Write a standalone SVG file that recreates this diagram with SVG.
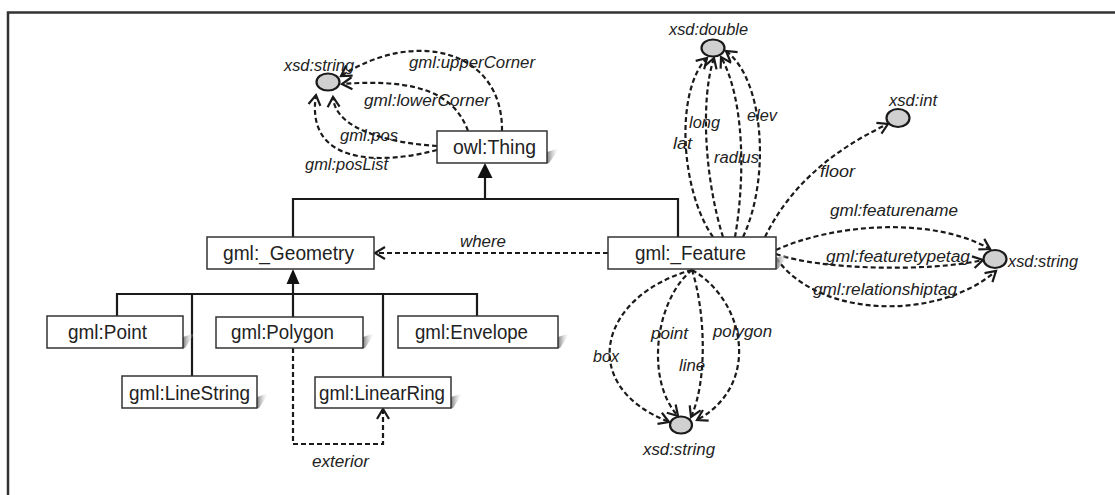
<svg xmlns="http://www.w3.org/2000/svg" width="1115" height="495" viewBox="0 0 1115 495">
<defs>
<linearGradient id="sh" x1="0" y1="0" x2="1" y2="0">
<stop offset="0" stop-color="#7a7a7a"/>
<stop offset="1" stop-color="#ffffff" stop-opacity="0"/>
</linearGradient>
<marker id="open" markerUnits="userSpaceOnUse" markerWidth="16" markerHeight="16" refX="11" refY="7" orient="auto" viewBox="0 0 16 14">
<path d="M1,1 L11,7 L1,13" fill="none" stroke="#1a1a1a" stroke-width="2.2"/>
</marker>
</defs>
<style>
.box{fill:#fff;stroke:#333;stroke-width:1.5}
.shadow{fill:url(#sh)}
.bt{font-family:"Liberation Sans",Arial,sans-serif;font-size:20px;fill:#222}
.lb{font-family:"Liberation Sans",Arial,sans-serif;font-size:16px;font-style:italic;fill:#222}
.dt{fill:#d0d0d0;stroke:#1a1a1a;stroke-width:2.2}
.dash{fill:none;stroke:#1a1a1a;stroke-width:2.2;stroke-dasharray:5 3;marker-end:url(#open)}
.solid{fill:none;stroke:#1a1a1a;stroke-width:2.2}
.tri{fill:#111}
.frame{fill:none;stroke:#333;stroke-width:2.5}
</style>
<rect width="1115" height="495" fill="#fff"/>
<path class="frame" d="M8,495 L8,12.5 L1115,12.5"/>

<g id="connectors">
<path class="solid" d="M485,178 L485,199 M293,237 L293,199 L678,199 L678,237"/>
<polygon class="tri" points="485,163 477.5,178 492.5,178"/>
<path class="solid" d="M293,284 L293,294 M117,316 L117,294 L477,294 L477,316 M192,294 L192,376 M293,294 L293,317 M383,294 L383,377"/>
<polygon class="tri" points="293,269 286.5,284 299.5,284"/>
<path class="dash" d="M502,131 C503,50 415,28 341,76"/>
<path class="dash" d="M468,131 C455,95 420,78 342,84"/>
<path class="dash" d="M437,146 C390,143 335,130 333,97"/>
<path class="dash" d="M437,150 C380,165 305,165 316,95"/>
<path class="dash" d="M608,253 L375,253"/>
<path class="dash" d="M293,348 L293,444 L383,444 L383,409"/>
<path class="dash" d="M713,237 C680,190 675,90 707,58"/>
<path class="dash" d="M723,237 C705,180 700,100 714,58"/>
<path class="dash" d="M735,237 C745,180 745,100 721,57"/>
<path class="dash" d="M743,237 C770,180 765,80 726,51"/>
<path class="dash" d="M765,237 Q800,165 888,124"/>
<path class="dash" d="M776,250 C830,225 930,215 990,249"/>
<path class="dash" d="M776,254 C820,270 930,272 983,260"/>
<path class="dash" d="M776,258 C820,320 940,320 996,271"/>
<path class="dash" d="M692,270 C600,295 575,385 669,422"/>
<path class="dash" d="M692,270 C655,300 645,380 678,416"/>
<path class="dash" d="M692,270 C705,310 708,380 691,417"/>
<path class="dash" d="M692,270 C745,300 762,385 697,420"/>
</g>

<g id="labels">
<text class="lb" x="409" y="68" textLength="126" lengthAdjust="spacingAndGlyphs">gml:upperCorner</text>
<text class="lb" x="364" y="106" textLength="126" lengthAdjust="spacingAndGlyphs">gml:lowerCorner</text>
<text class="lb" x="340" y="141" textLength="58" lengthAdjust="spacingAndGlyphs">gml:pos</text>
<text class="lb" x="305" y="170" textLength="83" lengthAdjust="spacingAndGlyphs">gml:posList</text>
<text class="lb" x="460" y="247" textLength="46" lengthAdjust="spacingAndGlyphs">where</text>
<text class="lb" x="312" y="467" textLength="57" lengthAdjust="spacingAndGlyphs">exterior</text>
<text class="lb" x="673" y="149" textLength="19" lengthAdjust="spacingAndGlyphs">lat</text>
<text class="lb" x="689" y="128" textLength="31" lengthAdjust="spacingAndGlyphs">long</text>
<text class="lb" x="714" y="163" textLength="45" lengthAdjust="spacingAndGlyphs">radius</text>
<text class="lb" x="747" y="121" textLength="30" lengthAdjust="spacingAndGlyphs">elev</text>
<text class="lb" x="820" y="177" textLength="35" lengthAdjust="spacingAndGlyphs">floor</text>
<text class="lb" x="830" y="216" textLength="128" lengthAdjust="spacingAndGlyphs">gml:featurename</text>
<text class="lb" x="826" y="262" textLength="144" lengthAdjust="spacingAndGlyphs">gml:featuretypetag</text>
<text class="lb" x="813" y="295" textLength="144" lengthAdjust="spacingAndGlyphs">gml:relationshiptag</text>
<text class="lb" x="593" y="362" textLength="26" lengthAdjust="spacingAndGlyphs">box</text>
<text class="lb" x="651" y="339" textLength="37" lengthAdjust="spacingAndGlyphs">point</text>
<text class="lb" x="679" y="371" textLength="26" lengthAdjust="spacingAndGlyphs">line</text>
<text class="lb" x="713" y="337" textLength="59" lengthAdjust="spacingAndGlyphs">polygon</text>
</g>

<g id="xsd-string-top">
<ellipse class="dt" cx="328" cy="82" rx="11.5" ry="8.5"/>
<text class="lb" x="284" y="71" textLength="70" lengthAdjust="spacingAndGlyphs">xsd:string</text>
</g>
<g id="xsd-double">
<ellipse class="dt" cx="713" cy="48" rx="11.5" ry="8.5"/>
<text class="lb" x="669" y="35" textLength="79" lengthAdjust="spacingAndGlyphs">xsd:double</text>
</g>
<g id="xsd-int">
<ellipse class="dt" cx="898" cy="118" rx="11.5" ry="9"/>
<text class="lb" x="889" y="106" textLength="48" lengthAdjust="spacingAndGlyphs">xsd:int</text>
</g>
<g id="xsd-string-right">
<ellipse class="dt" cx="995" cy="259" rx="11.5" ry="9"/>
<text class="lb" x="1008" y="267" textLength="70" lengthAdjust="spacingAndGlyphs">xsd:string</text>
</g>
<g id="xsd-string-bottom">
<ellipse class="dt" cx="681" cy="425" rx="11" ry="8.5"/>
<text class="lb" x="643" y="455" textLength="72" lengthAdjust="spacingAndGlyphs">xsd:string</text>
</g>

<g id="owl-thing">
<polygon class="shadow" points="547,152 560,148 549,163 547,163"/>
<rect class="box" x="437" y="131" width="110" height="32"/>
<text class="bt" x="453" y="154" textLength="83" lengthAdjust="spacingAndGlyphs">owl:Thing</text>
</g>
<g id="gml-geometry">
<rect class="box" x="207" y="237" width="167" height="32"/>
<text class="bt" x="223" y="260" textLength="131" lengthAdjust="spacingAndGlyphs">gml:_Geometry</text>
</g>
<g id="gml-feature">
<polygon class="shadow" points="776,258 789,254 778,269 776,269"/>
<rect class="box" x="608" y="237" width="168" height="32"/>
<text class="bt" x="635" y="260" textLength="111" lengthAdjust="spacingAndGlyphs">gml:_Feature</text>
</g>
<g id="gml-point">
<polygon class="shadow" points="183,337 195,333 185,348 183,348"/>
<rect class="box" x="47" y="316" width="136" height="32"/>
<text class="bt" x="68" y="339" textLength="79" lengthAdjust="spacingAndGlyphs">gml:Point</text>
</g>
<g id="gml-polygon">
<polygon class="shadow" points="363,337 375,333 365,348 363,348"/>
<rect class="box" x="216" y="317" width="147" height="31"/>
<text class="bt" x="231" y="339" textLength="103" lengthAdjust="spacingAndGlyphs">gml:Polygon</text>
</g>
<g id="gml-envelope">
<polygon class="shadow" points="558,337 570,333 560,348 558,348"/>
<rect class="box" x="398" y="316" width="160" height="32"/>
<text class="bt" x="415" y="339" textLength="113" lengthAdjust="spacingAndGlyphs">gml:Envelope</text>
</g>
<g id="gml-linestring">
<polygon class="shadow" points="257,397 269,393 259,408 257,408"/>
<rect class="box" x="122" y="376" width="135" height="32"/>
<text class="bt" x="129" y="400" textLength="121" lengthAdjust="spacingAndGlyphs">gml:LineString</text>
</g>
<g id="gml-linearring">
<polygon class="shadow" points="451,397 463,393 453,408 451,408"/>
<rect class="box" x="315" y="377" width="136" height="31"/>
<text class="bt" x="319" y="400" textLength="126" lengthAdjust="spacingAndGlyphs">gml:LinearRing</text>
</g>
</svg>
